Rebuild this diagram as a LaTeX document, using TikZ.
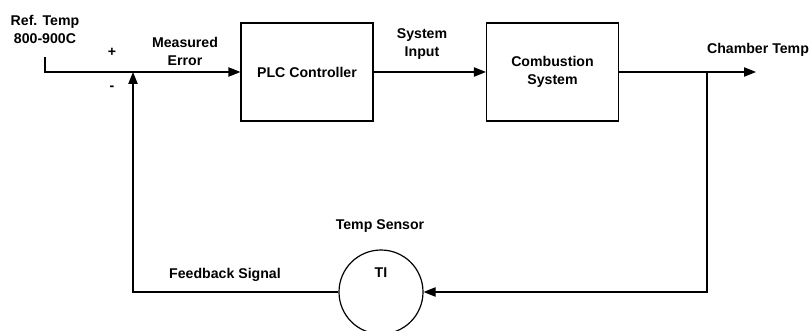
\documentclass[tikz,border=0pt]{standalone}
\usepackage{fontspec}
\setmainfont{Liberation Sans}
\usetikzlibrary{arrows.meta,positioning,calc}
\tikzset{
  box/.style={draw, rectangle, line width=0.9pt, align=center, font=\fontsize{10.6}{13.5}\selectfont\bfseries, minimum width=99pt, minimum height=73.5pt, inner sep=2pt},
  sensor/.style={draw, circle, line width=0.9pt, minimum size=63pt, inner sep=0pt},
  arr/.style={-{Triangle[length=9pt,width=7pt]}, line width=0.9pt},
  lbl/.style={font=\fontsize{10.6}{13.5}\selectfont\bfseries, align=center, inner sep=0pt},
}
\begin{document}
\begin{tikzpicture}[x=0.75pt,y=-0.75pt]
\useasboundingbox (0,0) rectangle (809,331);
% blocks
\node[box] (plc) at (307,72) {PLC Controller};
\node[box] (comb) at (552.5,72) {Combustion\\System};
\node[sensor] (ti) at (381,292) {};
% junctions
\coordinate (start) at (45,57);
\coordinate (sum) at (133,72);
\coordinate (branch) at (707,72);
\coordinate (out) at (756,72);
% texts
\node[lbl] (ref) at (45,29) {Ref. Temp\\800-900C};
\node[lbl] (plus) at (112,52) {+};
\node[lbl] (minus) at (112,88) {-};
\node[lbl] (err) at (185,51) {Measured\\Error};
\node[lbl] (sysin) at (422,44) {System\\Input};
\node[lbl] (chtemp) at (758,50) {Chamber Temp};
\node[lbl] (tsens) at (380,226) {Temp Sensor};
\node[lbl] (tilbl) at (381,273) {TI};
\node[lbl] (fb) at (225,275) {Feedback Signal};
% connectors
\draw[arr] (start) |- (plc.west);
\draw[arr] (plc.east) -- (comb.west);
\draw[arr] (comb.east) -- (out);
\draw[arr] (branch) |- (ti.east);
\draw[arr] (ti.west) -| (sum);
\end{tikzpicture}
\end{document}
